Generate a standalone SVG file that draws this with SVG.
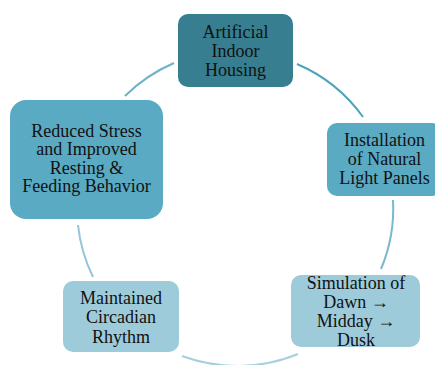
<svg xmlns="http://www.w3.org/2000/svg" width="435" height="365" viewBox="0 0 435 365">
  <style>
    .lbl { font-family: "Liberation Serif", Tinos, "Times New Roman", "DejaVu Serif", serif; font-size: 18px; fill: #111; text-anchor: middle; }
    .arc { fill: none; stroke-width: 2; }
    .dark { fill: #367e90; }
    .mid { fill: #5aaac3; }
    .light { fill: #9ecbda; }
  </style>
  <rect width="435" height="365" fill="#ffffff"/>
  <g id="connectors">
    <path class="arc" stroke="#4fa3bb" d="M297,64 A158,156.5 0 0 1 363,117"/>
    <path class="arc" stroke="#78b9cd" d="M393,200 A158,156.5 0 0 1 381,269"/>
    <path class="arc" stroke="#a6d0de" d="M298,354 A158,156.5 0 0 1 182,356"/>
    <path class="arc" stroke="#93c6d6" d="M93,277 A158,156.5 0 0 1 78,225"/>
    <path class="arc" stroke="#6db3c8" d="M125,96 A158,156.5 0 0 1 174,63"/>
  </g>
  <g id="node-housing">
    <rect class="dark" x="178" y="14" width="115" height="73" rx="10"/>
    <text class="lbl"><tspan x="235.5" y="37.5">Artificial</tspan><tspan x="235.5" y="56.7">Indoor</tspan><tspan x="235.5" y="76">Housing</tspan></text>
  </g>
  <g id="node-panels">
    <rect class="mid" x="327" y="123" width="115" height="73" rx="10"/>
    <text class="lbl"><tspan x="384.5" y="146">Installation</tspan><tspan x="384.5" y="165.2">of Natural</tspan><tspan x="384.5" y="184.4">Light Panels</tspan></text>
  </g>
  <g id="node-simulation">
    <rect class="light" x="291" y="275" width="129" height="72" rx="10"/>
    <text class="lbl"><tspan x="356" y="288.5">Simulation of</tspan><tspan x="356" y="307.5">Dawn →</tspan><tspan x="356" y="326.5">Midday →</tspan><tspan x="356" y="345.5">Dusk</tspan></text>
  </g>
  <g id="node-rhythm">
    <rect class="light" x="63" y="281" width="116" height="71" rx="10"/>
    <text class="lbl"><tspan x="121" y="303.5">Maintained</tspan><tspan x="121" y="323">Circadian</tspan><tspan x="121" y="342.5">Rhythm</tspan></text>
  </g>
  <g id="node-behavior">
    <rect class="mid" x="10" y="100" width="153" height="119" rx="16"/>
    <text class="lbl"><tspan x="86.5" y="136.5">Reduced Stress</tspan><tspan x="86.5" y="155">and Improved</tspan><tspan x="86.5" y="173.5">Resting &amp;</tspan><tspan x="86.5" y="192">Feeding Behavior</tspan></text>
  </g>
</svg>
